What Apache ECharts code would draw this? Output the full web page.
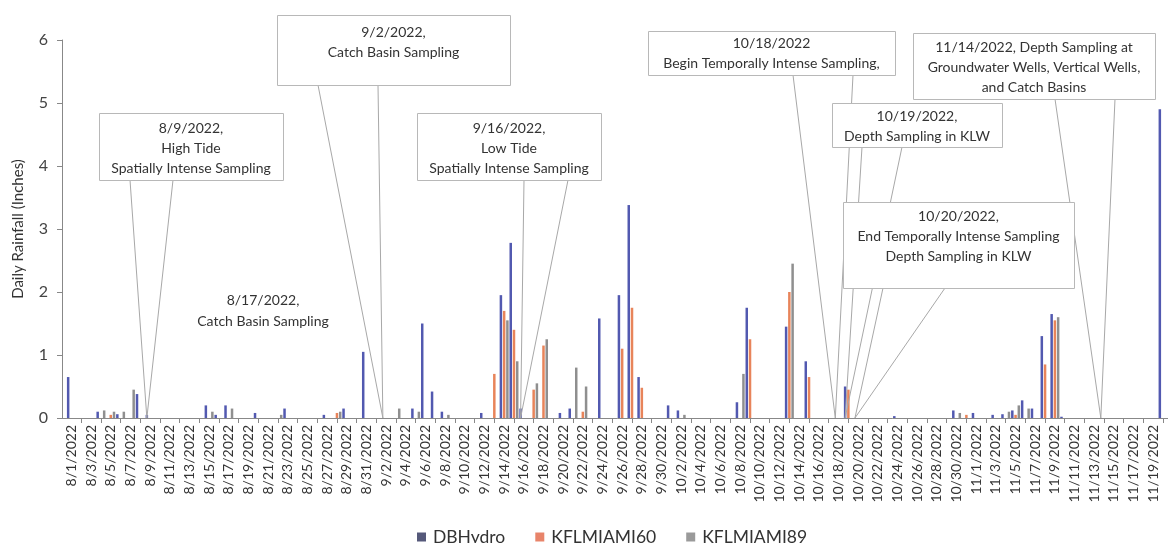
<!DOCTYPE html>
<html><head><meta charset="utf-8">
<script src="https://cdn.jsdelivr.net/npm/echarts/dist/echarts.min.js"></script>
<style>html,body{margin:0;padding:0;background:#fff}#c{width:1168px;height:543px}</style>
</head><body><div id="c"></div>
<script>
// ---------- DATA ----------
const catAug = ['8/1/2022','8/2/2022','8/3/2022','8/4/2022','8/5/2022','8/6/2022','8/7/2022','8/8/2022','8/9/2022','8/10/2022','8/11/2022','8/12/2022','8/13/2022','8/14/2022','8/15/2022','8/16/2022','8/17/2022','8/18/2022','8/19/2022','8/20/2022','8/21/2022','8/22/2022','8/23/2022','8/24/2022','8/25/2022','8/26/2022','8/27/2022','8/28/2022','8/29/2022','8/30/2022','8/31/2022'];
const catSep = ['9/1/2022','9/2/2022','9/3/2022','9/4/2022','9/5/2022','9/6/2022','9/7/2022','9/8/2022','9/9/2022','9/10/2022','9/11/2022','9/12/2022','9/13/2022','9/14/2022','9/15/2022','9/16/2022','9/17/2022','9/18/2022','9/19/2022','9/20/2022','9/21/2022','9/22/2022','9/23/2022','9/24/2022','9/25/2022','9/26/2022','9/27/2022','9/28/2022','9/29/2022','9/30/2022'];
const catOct = ['10/1/2022','10/2/2022','10/3/2022','10/4/2022','10/5/2022','10/6/2022','10/7/2022','10/8/2022','10/9/2022','10/10/2022','10/11/2022','10/12/2022','10/13/2022','10/14/2022','10/15/2022','10/16/2022','10/17/2022','10/18/2022','10/19/2022','10/20/2022','10/21/2022','10/22/2022','10/23/2022','10/24/2022','10/25/2022','10/26/2022','10/27/2022','10/28/2022','10/29/2022','10/30/2022','10/31/2022'];
const catNov = ['11/1/2022','11/2/2022','11/3/2022','11/4/2022','11/5/2022','11/6/2022','11/7/2022','11/8/2022','11/9/2022','11/10/2022','11/11/2022','11/12/2022','11/13/2022','11/14/2022','11/15/2022','11/16/2022','11/17/2022','11/18/2022','11/19/2022','11/20/2022'];

const dbAug = [0.65,0,0,0.1,0,0.06,0,0.38,0.05,0,0,0,0,0,0.2,0.05,0.2,0,0,0.08,0,0,0.15,0,0,0,0.05,0,0.15,0,1.05];
const dbSep = [0,0,0,0,0.15,1.5,0.42,0.1,0,0,0,0.08,0,1.95,2.78,0.15,0,0,0,0.08,0.15,0,0,1.58,0,1.95,3.38,0.65,0,0];
const dbOct = [0.2,0.12,0,0,0,0,0,0.25,1.75,0,0,0,1.45,0,0.9,0,0,0,0.5,0,0,0,0,0.03,0,0,0,0,0,0.12,0];
const dbNov = [0.08,0,0.05,0.06,0.12,0.28,0.15,1.3,1.65,0.02,0,0,0,0,0,0,0,0,0,4.9];

const k60Aug = [0,0,0,0,0.05,0,0,0,0,0,0,0,0,0,0,0,0,0,0,0,0,0,0,0,0,0,0,0.08,0,0,0];
const k60Sep = [0,0,0,0,0,0,0,0,0,0,0,0,0.7,1.7,1.4,0,0.45,1.15,0,0,0,0.1,0,0,0,1.1,1.75,0.48,0,0];
const k60Oct = [0,0,0,0,0,0,0,0,1.25,0,0,0,2.0,0,0.65,0,0,0,0.45,0,0,0,0,0,0,0,0,0,0,0,0.05];
const k60Nov = [0,0,0,0,0.05,0,0,0.85,1.55,0,0,0,0,0,0,0,0,0,0,0];

const k89Aug = [0,0,0,0.12,0.1,0.1,0.45,0,0,0,0,0,0,0,0.1,0,0.15,0,0,0,0,0.05,0,0,0,0,0,0.1,0,0,0];
const k89Sep = [0,0,0.15,0,0.1,0,0,0.05,0,0,0,0,0,1.55,0.9,0,0.55,1.25,0,0,0.8,0.5,0,0,0,0,0,0,0,0];
const k89Oct = [0,0.05,0,0,0,0,0,0.7,0,0,0,0,2.45,0,0,0,0,0,0,0,0,0,0,0,0,0,0,0,0,0.08,0];
const k89Nov = [0,0,0,0.1,0.2,0.15,0,0,1.6,0,0,0,0,0,0,0,0,0,0,0];

const categories = [...catAug, ...catSep, ...catOct, ...catNov];
const dbhydro = [...dbAug, ...dbSep, ...dbOct, ...dbNov];
const kfl60 = [...k60Aug, ...k60Sep, ...k60Oct, ...k60Nov];
const kfl89 = [...k89Aug, ...k89Sep, ...k89Oct, ...k89Nov];
const seriesNames = ['DBHydro', 'KFLMIAMI60', 'KFLMIAMI89'];
const yTicks = [0, 1, 2, 3, 4, 5, 6];

const annotationDates = ['8/9/2022', '9/2/2022', '9/16/2022', '10/18/2022', '10/19/2022', '10/20/2022', '11/14/2022'];
const annotationTexts = [
  ['8/9/2022,', 'High Tide', 'Spatially Intense Sampling'],
  ['9/2/2022,', 'Catch Basin Sampling'],
  ['9/16/2022,', 'Low Tide', 'Spatially Intense Sampling'],
  ['10/18/2022', 'Begin Temporally Intense Sampling,'],
  ['10/19/2022,', 'Depth Sampling in KLW'],
  ['10/20/2022,', 'End Temporally Intense Sampling', 'Depth Sampling in KLW'],
  ['11/14/2022, Depth Sampling at', 'Groundwater Wells, Vertical Wells,', 'and Catch Basins']
];
const noteText = ['8/17/2022,', 'Catch Basin Sampling'];

// ---------- LAYOUT (pixels) ----------
const boxLayout = [
  {x: 99, y: 113, w: 184, h: 67, ty: 128},
  {x: 277, y: 15, w: 233, h: 70, ty: 32},
  {x: 417, y: 113, w: 184, h: 67, ty: 128},
  {x: 648, y: 31, w: 247, h: 44, ty: 43},
  {x: 832, y: 103, w: 170, h: 44, ty: 116},
  {x: 843, y: 202, w: 231, h: 86, ty: 216},
  {x: 913, y: 33, w: 242, h: 66, ty: 47}
];
const leaderStarts = [
  [[130, 180], [173, 180]],
  [[318, 85], [378, 85]],
  [[524, 180], [568, 180]],
  [[793, 75], [853, 75]],
  [[862, 147], [902, 147]],
  [[883, 288], [945, 288]],
  [[1055, 99], [1115, 99]]
];

const FONT = 'Lato, "Open Sans", sans-serif';
const bandW = 9.89;
const gridLeft = 66.5;

const leaderData = [];
annotationDates.forEach((d, i) => {
  leaderStarts[i].forEach(p => {
    leaderData.push([{x: p[0], y: p[1]}, {coord: [d, 0]}]);
  });
});

const graphics = [];
boxLayout.forEach((b, i) => {
  graphics.push({
    type: 'rect', z: 100,
    shape: {x: b.x + 0.5, y: b.y + 0.5, width: b.w, height: b.h},
    style: {fill: '#fff', stroke: '#b8b8b8', lineWidth: 1}
  });
  graphics.push({
    type: 'text', z: 101,
    x: b.x + b.w / 2, y: b.ty - 10,
    style: {text: annotationTexts[i].join('\n'), fill: '#333', font: '14px ' + FONT,
            align: 'center', verticalAlign: 'top', lineHeight: 20}
  });
});
graphics.push({
  type: 'text', z: 101, x: 263, y: 290,
  style: {text: noteText.join('\n'), fill: '#333', font: '14px ' + FONT,
          align: 'center', verticalAlign: 'top', lineHeight: 21}
});
// short stub of the category axis line to the left of the first band, meeting the value axis
graphics.push({
  type: 'line', z: 50,
  shape: {x1: 62, y1: 418.5, x2: gridLeft, y2: 418.5},
  style: {stroke: '#888', lineWidth: 1}
});

const colors = ['#5259b0', '#e8845a', '#8f8f8f'];
const legendColors = ['#55597a', '#e8846a', '#9a9a9a'];

const chart = echarts.init(document.getElementById('c'), null, {renderer: 'canvas'});
chart.setOption({
  animation: false,
  backgroundColor: '#fff',
  textStyle: {fontFamily: FONT},
  grid: {left: gridLeft, top: 40, width: bandW * categories.length, height: 378},
  legend: {
    left: 412, top: 523, icon: 'rect', itemWidth: 9, itemHeight: 9, itemGap: 30,
    textStyle: {fontSize: 17.5, color: '#333', fontFamily: FONT, padding: [0, 0, 0, 2]},
    data: seriesNames.map((n, i) => ({name: n, itemStyle: {color: legendColors[i]}}))
  },
  xAxis: {
    type: 'category', data: categories,
    axisLine: {lineStyle: {color: '#888'}},
    axisTick: {show: true, alignWithLabel: true, length: 5, interval: (i) => i % 2 === 1, lineStyle: {color: '#888'}},
    axisLabel: {interval: 1, rotate: 90, fontSize: 14, color: '#333', margin: 7, fontFamily: FONT}
  },
  yAxis: {
    type: 'value', min: yTicks[0], max: yTicks[yTicks.length - 1], interval: 1, offset: 4.5,
    axisLine: {show: true, lineStyle: {color: '#888'}},
    axisTick: {show: true, length: 5, lineStyle: {color: '#888'}},
    axisLabel: {fontSize: 16, color: '#444', margin: 14, fontFamily: FONT},
    splitLine: {show: false},
    name: 'Daily Rainfall (Inches)', nameLocation: 'middle', nameRotate: 90, nameGap: 36,
    nameTextStyle: {fontSize: 15, color: '#333', fontFamily: FONT}
  },
  series: [
    {name: seriesNames[0], type: 'bar', data: dbhydro, barWidth: 2.5, barGap: '30%',
     itemStyle: {color: colors[0]},
     markLine: {silent: true, symbol: ['none', 'none'], label: {show: false},
                lineStyle: {color: '#a8a8a8', width: 1, type: 'solid'},
                emphasis: {disabled: true}, animation: false, data: leaderData}},
    {name: seriesNames[1], type: 'bar', data: kfl60, barWidth: 2.5, barGap: '30%', itemStyle: {color: colors[1]}},
    {name: seriesNames[2], type: 'bar', data: kfl89, barWidth: 2.5, barGap: '30%', itemStyle: {color: colors[2]}}
  ],
  graphic: graphics
});
</script></body></html>
